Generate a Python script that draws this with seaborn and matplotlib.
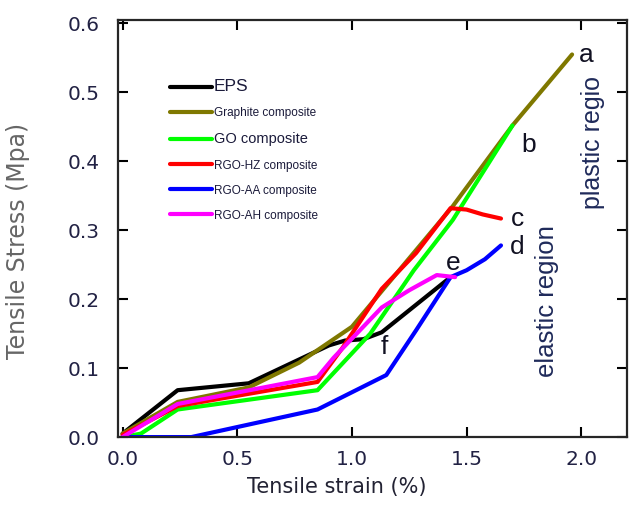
import pandas as pd
import numpy as np
import matplotlib
matplotlib.use("Agg")
import matplotlib.pyplot as plt
import seaborn as sns

# datos
eps_x = [0.0, 0.24, 0.55, 0.90, 0.97, 1.05, 1.13, 1.43]
eps_y = [0.005, 0.068, 0.078, 0.133, 0.140, 0.142, 0.152, 0.232]

graf_x = [0.0, 0.24, 0.55, 0.77, 1.00, 1.44, 1.70, 1.96]
graf_y = [0.005, 0.051, 0.072, 0.108, 0.160, 0.335, 0.452, 0.555]

go_x = [0.0, 0.08, 0.24, 0.85, 1.08, 1.27, 1.44, 1.70]
go_y = [0.0, 0.005, 0.040, 0.068, 0.150, 0.242, 0.315, 0.452]

hz_x = [0.0, 0.24, 0.85, 0.96, 1.13, 1.28, 1.43, 1.50, 1.57, 1.65]
hz_y = [0.003, 0.045, 0.080, 0.130, 0.215, 0.267, 0.332, 0.330, 0.323, 0.317]

aa_x = [0.0, 0.30, 0.85, 1.15, 1.28, 1.43, 1.50, 1.58, 1.65]
aa_y = [0.0, 0.0, 0.040, 0.090, 0.155, 0.232, 0.242, 0.258, 0.278]

ah_x = [0.0, 0.24, 0.85, 0.92, 1.13, 1.25, 1.37, 1.45]
ah_y = [0.0, 0.048, 0.087, 0.115, 0.188, 0.213, 0.235, 0.232]

series = ["EPS", "Graphite composite", "GO composite",
          "RGO-HZ composite", "RGO-AA composite", "RGO-AH composite"]
xs = [eps_x, graf_x, go_x, hz_x, aa_x, ah_x]
ys = [eps_y, graf_y, go_y, hz_y, aa_y, ah_y]
colores = ["#000000", "#7f7800", "#00ff00", "#ff0000", "#0000ff", "#ff00ff"]

etiquetas = ["a", "b", "c", "d", "e", "f"]
etiq_x = [2.02, 1.77, 1.72, 1.72, 1.44, 1.14]
etiq_y = [0.554, 0.423, 0.317, 0.275, 0.252, 0.130]

filas = []
for nombre, x, y in zip(series, xs, ys):
    for i, (a, b) in enumerate(zip(x, y)):
        filas.append({"serie": nombre, "orden": i, "strain": a, "stress": b})
df = pd.DataFrame(filas)

sns.set_style("ticks")
plt.rcParams['font.family'] = ['DejaVu Sans']

fig = plt.figure(figsize=(6.29, 5.13), dpi=100)
ax = fig.add_axes([0.1876, 0.148, 0.8094, 0.813])

sns.lineplot(data=df, x="strain", y="stress", hue="serie", hue_order=series,
             palette=colores, sort=False, estimator=None, linewidth=3, ax=ax)

ax.set_xlim(-0.02, 2.2)
ax.set_ylim(0, 0.605)
ax.set_xticks([0.0, 0.5, 1.0, 1.5, 2.0])
ax.set_yticks([0.0, 0.1, 0.2, 0.3, 0.4, 0.5, 0.6])
ax.set_xticklabels(["0.0", "0.5", "1.0", "1.5", "2.0"])
ax.set_yticklabels(["0.0", "0.1", "0.2", "0.3", "0.4", "0.5", "0.6"])
ax.tick_params(direction="in", length=7, width=1.5, top=True, right=True,
               labelsize=14.5, colors="black", labelcolor="#222244")
ax.tick_params(axis="y", pad=13)
ax.tick_params(axis="x", pad=9)
for s in ax.spines.values():
    s.set_linewidth(1.6)
    s.set_visible(True)

ax.set_xlabel("Tensile strain (%)", fontsize=15, color="#222233")
ax.xaxis.set_label_coords(0.43, -0.095)
ax.set_ylabel("Tensile Stress (Mpa)", fontsize=17, color="#666666")
ax.yaxis.set_label_coords(-0.173, 0.47)

# leyenda con tamanos distintos
leg = ax.legend(loc="upper left", bbox_to_anchor=(0.08, 0.885), frameon=False,
                handlelength=3.4, handletextpad=0.1, labelspacing=1.05,
                prop={"family": "Liberation Sans", "size": 9})
for linea in leg.get_lines():
    linea.set_linewidth(3)
tamanos = [12.5, 8.5, 10.5, 8.5, 8.5, 8.5]
for txt, t in zip(leg.get_texts(), tamanos):
    txt.set_fontsize(t)
    txt.set_color("#1a1a3a")

for e, x, y in zip(etiquetas, etiq_x, etiq_y):
    ax.text(x, y, e, fontsize=19, family="Liberation Sans", color="#111122",
            ha="center", va="center")

ax.text(2.05, 0.427, "plastic regio", rotation=90, fontsize=18,
        family="Liberation Sans", color="#1f2a5a", ha="center", va="center")
ax.text(1.85, 0.197, "elastic region", rotation=90, fontsize=18.5,
        family="Liberation Sans", color="#1f2a5a", ha="center", va="center")

plt.savefig("out.png", dpi=100)
